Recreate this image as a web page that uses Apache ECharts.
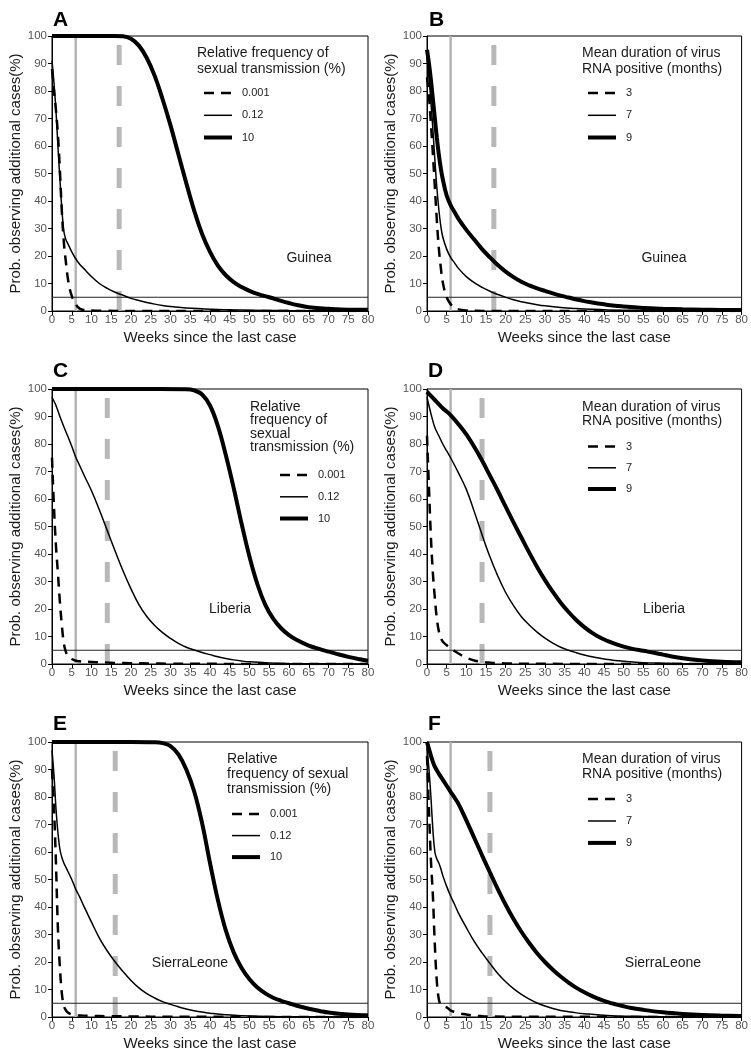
<!DOCTYPE html>
<html>
<head>
<meta charset="utf-8">
<script src="https://cdn.jsdelivr.net/npm/echarts@6/dist/echarts.min.js"></script>
<style>
  html, body { margin: 0; padding: 0; background: #fff; }
  #chart { width: 751px; height: 1061px; }
</style>
</head>
<body>
<div id="chart"></div>
<script>
// [week, prob %], one array per curve
// A: Guinea, relative frequency of sexual transmission
const aLow = [[0,88],[0.5,80],[1,73],[1.5,64],[2,51],[2.5,36],[3,25],[3.5,18],[4,12],[4.5,8],[5,5.5],[5.5,3.8],[6,2.5],[6.5,1.5],[7,0.9],[8,0.4],[10,0.2],[14,0.1],[20,0],[80,0]];
const aMid = [[0,91],[0.5,83],[1,73],[1.5,60],[2,48],[2.5,37],[3,29],[3.5,26],[4,24.5],[5,21.5],[6,19],[7,17],[8,15.5],[10,12.5],[12,10],[14,8.2],[16,6.8],[18,5.7],[20,4.6],[22,3.8],[24,3.1],[26,2.5],[28,2],[30,1.6],[34,1.1],[38,0.8],[42,0.55],[46,0.4],[50,0.3],[60,0.15],[80,0.05]];
const aHigh = [[0,100],[10,100],[16,100],[18,99.9],[20,99],[22,96.5],[24,92],[26,85.5],[28,77],[30,67.5],[32,57],[34,46.5],[36,36.5],[38,28],[40,21.5],[42,16.5],[44,13],[46,10.5],[48,8.7],[50,7.3],[52,6.2],[55,5],[58,3.7],[60,2.9],[62,2.2],[65,1.4],[70,0.8],[75,0.5],[80,0.5]];
// B: Guinea, mean duration of virus RNA positive
const bLow = [[0,85],[0.5,78],[1,68],[1.5,57],[2,45],[2.5,33],[3,23],[3.5,16],[4,10.5],[5,5],[6,2.5],[7,1.2],[8,0.6],[10,0.2],[12,0.1],[14,0],[80,0]];
const bMid = [[0,93],[0.5,85],[1,76],[1.5,66],[2,55],[2.5,45],[3,37],[3.5,31],[4,27],[5,22.5],[6,19.5],[7,17.5],[8,15.5],[10,12.5],[12,10.3],[14,8.6],[16,7.2],[18,6],[20,5],[22,4.1],[24,3.4],[26,2.8],[28,2.3],[30,1.9],[34,1.3],[38,0.9],[42,0.6],[46,0.4],[50,0.3],[60,0.15],[80,0.05]];
const bHigh = [[0,95],[0.5,90],[1,84],[1.5,77],[2,70],[2.5,63],[3,57],[3.5,52],[4,48],[5,42],[6,38.5],[7,36],[8,33.5],[10,29.5],[12,26],[14,22.5],[16,19.5],[18,16.7],[20,14.3],[22,12.3],[24,10.6],[26,9.3],[28,8.2],[30,7.3],[32,6.4],[34,5.6],[36,4.9],[38,4.2],[40,3.6],[42,3.1],[44,2.6],[46,2.2],[48,1.9],[50,1.6],[55,1.1],[60,0.8],[65,0.6],[70,0.5],[75,0.4],[80,0.4]];
// C: Liberia, relative frequency
const cLow = [[0,75],[0.5,57],[1,43],[1.5,33],[2,22.5],[2.5,14],[3,7.5],[3.5,4.5],[4,3],[5,1.8],[6,1.2],[7,1],[8,0.9],[10,0.7],[12,0.6],[14,0.5],[16,0.4],[20,0.3],[25,0.2],[30,0.1],[40,0.05],[80,0]];
const cMid = [[0,97],[1,94],[2,90],[3,86.3],[4,82.8],[5,79.2],[6,75.3],[7,72.2],[8,69],[10,63],[12,56],[14,48.5],[16,41],[18,33.8],[20,27.3],[22,21.6],[24,17.3],[26,14],[28,11.4],[30,9.3],[32,7.5],[34,6.1],[36,5.1],[38,4.2],[40,3.4],[42,2.6],[44,2],[46,1.5],[48,1.1],[50,0.8],[55,0.4],[60,0.2],[65,0.1],[80,0]];
const cHigh = [[0,100],[20,100],[34,99.9],[36,99.5],[38,98],[40,94],[42,86.5],[44,76],[46,64],[48,51],[50,39],[52,29],[54,21.5],[56,16.5],[58,13],[60,10.5],[62,8.7],[65,6.7],[68,5.3],[70,4.5],[72,3.7],[75,2.6],[78,1.7],[80,1.2]];
// D: Liberia, mean duration
const dLow = [[0,83],[0.5,64],[1,46],[1.5,33],[2,24],[2.5,16.5],[3,12],[3.5,9.5],[4,8.2],[5,6.8],[6,5.7],[7,4.7],[8,3.8],[9,3],[10,2.3],[12,1.3],[14,0.8],[16,0.5],[18,0.3],[20,0.2],[25,0.1],[30,0.05],[80,0]];
const dMid = [[0,97],[1,91],[2,86],[3,83],[4,80],[5,77.5],[6,75],[8,69.5],[10,63.5],[12,55.5],[14,47],[16,39],[18,32],[20,26],[22,21.2],[24,17.2],[26,14.2],[28,11.6],[30,9.4],[32,7.6],[34,6.1],[36,5],[38,4.1],[40,3.3],[42,2.6],[44,2.1],[46,1.6],[48,1.3],[50,1],[55,0.5],[60,0.3],[65,0.15],[80,0.05]];
const dHigh = [[0,99],[1,97.5],[2,96],[3,94.5],[4,93],[5,91.8],[6,90.5],[8,87.2],[10,83.5],[12,79],[14,74],[16,68.5],[18,63],[20,57.2],[22,51.5],[24,46],[26,40.5],[28,35.3],[30,30.5],[32,26.2],[34,22.3],[36,18.9],[38,15.9],[40,13.4],[42,11.3],[44,9.6],[46,8.3],[48,7.2],[50,6.3],[52,5.6],[55,4.8],[58,4],[60,3.4],[62,2.8],[65,2.1],[70,1.3],[75,0.8],[80,0.6]];
// E: Sierra Leone, relative frequency
const eLow = [[0,90],[0.5,76],[1,56],[1.5,32],[2,18],[2.5,8.5],[3,4],[3.5,2.5],[4,1.6],[5,0.9],[6,0.6],[8,0.5],[10,0.4],[14,0.3],[20,0.2],[30,0.1],[80,0]];
const eMid = [[0,97],[0.5,88],[1,76],[1.5,67],[2,61],[2.5,58],[3,56],[3.5,54.5],[4,53],[5,50],[6,46.5],[7,43.7],[8,40.5],[10,34.5],[12,28.7],[14,24],[16,20],[18,16.5],[20,13.3],[22,10.6],[24,8.5],[26,6.9],[28,5.6],[30,4.6],[32,3.7],[34,2.9],[36,2.3],[38,1.8],[40,1.4],[44,0.8],[48,0.5],[52,0.3],[60,0.1],[80,0]];
const eHigh = [[0,100],[20,100],[26,99.9],[28,99.6],[30,98.5],[32,95.5],[34,90],[36,82],[38,70.5],[40,56],[42,42.5],[44,31.5],[46,23.5],[48,17.8],[50,13.7],[52,10.7],[54,8.6],[56,7],[58,5.9],[60,5],[62,4.1],[65,3],[68,2.1],[70,1.6],[75,0.9],[80,0.6]];
// F: Sierra Leone, mean duration
const fLow = [[0,95],[0.5,75],[1,57],[1.5,44],[2,26],[2.5,13],[3,6.5],[3.5,4.5],[4,4.1],[5,3.5],[6,2.4],[7,1.8],[8,1.4],[10,0.9],[12,0.5],[14,0.3],[16,0.2],[20,0.1],[80,0]];
const fMid = [[0,98],[0.5,90],[1,80],[1.5,68],[2,60],[2.5,57.5],[3,56],[3.5,54],[4,51.5],[5,47.5],[6,44],[7,41],[8,37.8],[10,32.5],[12,27.5],[14,23.3],[16,19.5],[18,15.8],[20,12.8],[22,10.3],[24,8.2],[26,6.5],[28,5.1],[30,4],[32,3.1],[34,2.4],[36,1.9],[38,1.5],[40,1.2],[44,0.7],[48,0.4],[52,0.25],[60,0.1],[80,0]];
const fHigh = [[0,100],[0.5,97.5],[1,95],[1.5,92.8],[2,91],[3,88.5],[4,86.3],[5,84.1],[6,81.9],[7,79.8],[8,77.5],[10,71.5],[12,65.2],[14,58.8],[16,52.6],[18,46.5],[20,40.8],[22,35.6],[24,31],[26,26.9],[28,23.2],[30,20],[32,17.2],[34,14.7],[36,12.5],[38,10.6],[40,9],[42,7.6],[44,6.4],[46,5.4],[48,4.6],[50,3.9],[52,3.3],[55,2.6],[60,1.7],[65,1.1],[70,0.7],[75,0.5],[80,0.4]];

const freqNames = ['0.001', '0.12', '10'];
const durNames = ['3', '7', '9'];
const letters = ['A', 'B', 'C', 'D', 'E', 'F'];
const countries = ['Guinea', 'Guinea', 'Liberia', 'Liberia', 'SierraLeone', 'SierraLeone'];
const freqTitle = 'Relative frequency of\nsexual transmission (%)';
const durTitle = 'Mean duration of virus\nRNA positive (months)';
const curves = [
  [aLow, aMid, aHigh], [bLow, bMid, bHigh],
  [cLow, cMid, cHigh], [dLow, dMid, dHigh],
  [eLow, eMid, eHigh], [fLow, fMid, fHigh]
];
const earlyWeek = 6;                        // grey solid line
const lastWeek = [17, 17, 14, 14, 16, 16];  // grey dashed line
const cutoff = 5;                           // 5% threshold

const FONT = '"Liberation Sans", Arial, Helvetica, sans-serif';
const lefts = [52, 427];
const tops = [36, 389, 742];
const GW = 316, GH = 275;

// layout of the texts inside each panel
const legendBox = [
  { left: 202, top: 87.5, gap: 11 },
  { left: 586, top: 87.5, gap: 11 },
  { left: 278, top: 469.5, gap: 10.5 },
  { left: 586, top: 441, gap: 10 },
  { left: 230, top: 808.5, gap: 10.3 },
  { left: 586, top: 793.5, gap: 10.7 }
];
const headBox = [
  { x: 197, y: 53, lh: 16, text: freqTitle },
  { x: 582, y: 53, lh: 15.7, text: durTitle },
  { x: 250, y: 406.7, lh: 13.5, text: 'Relative\nfrequency of\nsexual\ntransmission (%)' },
  { x: 582, y: 406.7, lh: 14.3, text: durTitle },
  { x: 227, y: 759, lh: 15, text: 'Relative\nfrequency of sexual\ntransmission (%)' },
  { x: 582, y: 759, lh: 15, text: durTitle }
];
const countryPos = [[309, 258], [664, 258], [230, 609], [664, 609], [190, 963], [663, 963]];
const letterPos = [[53, 20], [429, 20], [53, 371], [428, 371], [53, 724], [428, 724]];

const grid = [], xAxis = [], yAxis = [], series = [], legend = [], graphic = [];
const curveStyles = [
  { width: 2.5, type: [10, 7] },
  { width: 1.5, type: 'solid' },
  { width: 4, type: 'solid' }
];

for (let i = 0; i < 6; i++) {
  const names = i % 2 === 0 ? freqNames : durNames;
  grid.push({
    left: lefts[i % 2], top: tops[Math.floor(i / 2)], width: GW, height: GH,
    show: true, borderColor: '#000', borderWidth: 1, backgroundColor: 'transparent'
  });
  xAxis.push({
    type: 'value', gridIndex: i, min: 0, max: 80, interval: 5,
    name: 'Weeks since the last case', nameLocation: 'middle', nameGap: 19,
    nameTextStyle: { fontFamily: FONT, fontSize: 15, color: '#1a1a1a' },
    axisLine: { onZero: false, lineStyle: { color: '#000', width: 1 } },
    axisTick: { length: 4, lineStyle: { color: '#000' } },
    axisLabel: { margin: 3, fontFamily: FONT, fontSize: 11.5, color: '#555' },
    splitLine: { show: false }
  });
  yAxis.push({
    type: 'value', gridIndex: i, min: 0, max: 100, interval: 10,
    name: 'Prob. observing additional cases(%)', nameLocation: 'middle', nameGap: 29,
    nameTextStyle: { fontFamily: FONT, fontSize: 15, color: '#1a1a1a' },
    axisLine: { lineStyle: { color: '#000', width: 1 } },
    axisTick: { length: 4, lineStyle: { color: '#000' } },
    axisLabel: { margin: 5, fontFamily: FONT, fontSize: 11.5, color: '#555' },
    splitLine: { show: false }
  });

  // reference lines
  series.push({
    type: 'line', xAxisIndex: i, yAxisIndex: i, symbol: 'none', silent: true,
    data: [[earlyWeek, 0], [earlyWeek, 100]],
    lineStyle: { color: '#b4b4b4', width: 2.5 }, z: 1
  });
  series.push({
    type: 'line', xAxisIndex: i, yAxisIndex: i, symbol: 'none', silent: true,
    data: [[lastWeek[i], 0], [lastWeek[i], 100]],
    lineStyle: { color: '#b8b8b8', width: 5, type: [20, 21] }, z: 1
  });
  series.push({
    type: 'line', xAxisIndex: i, yAxisIndex: i, symbol: 'none', silent: true,
    data: [[0, cutoff], [80, cutoff]],
    lineStyle: { color: '#222', width: 1 }, z: 1
  });

  // model curves
  curves[i].forEach((d, k) => {
    series.push({
      name: names[k], type: 'line', xAxisIndex: i, yAxisIndex: i,
      symbol: 'none', showSymbol: false, smooth: 0.4,
      data: d, color: '#000',
      lineStyle: { color: '#000', width: curveStyles[k].width, type: curveStyles[k].type },
      z: 3
    });
  });

  legend.push({
    data: names.map((n, k) => ({
      name: n,
      itemStyle: { opacity: 0 },
      lineStyle: { color: '#000', width: curveStyles[k].width, type: curveStyles[k].type }
    })),
    orient: 'vertical', left: legendBox[i].left, top: legendBox[i].top,
    itemWidth: 28, itemHeight: 14, itemGap: legendBox[i].gap, padding: 0,
    selectedMode: false,
    itemStyle: { opacity: 0 },
    lineStyle: { width: 'inherit', type: 'inherit', color: '#000' },
    textStyle: { fontFamily: FONT, fontSize: 11, color: '#222', padding: [0, 0, 0, 5] }
  });

  graphic.push({
    type: 'text', x: headBox[i].x, y: headBox[i].y - headBox[i].lh / 2,
    style: {
      text: headBox[i].text, font: '14px ' + FONT, fill: '#1a1a1a',
      lineHeight: headBox[i].lh, verticalAlign: 'top', align: 'left'
    }
  });
  graphic.push({
    type: 'text', x: countryPos[i][0], y: countryPos[i][1],
    style: { text: countries[i], font: '14px ' + FONT, fill: '#1a1a1a', align: 'center', verticalAlign: 'middle' }
  });
  graphic.push({
    type: 'text', x: letterPos[i][0], y: letterPos[i][1],
    style: { text: letters[i], font: 'bold 21px ' + FONT, fill: '#000', align: 'left', verticalAlign: 'middle' }
  });
}

const chart = echarts.init(document.getElementById('chart'), null, { renderer: 'canvas' });
chart.setOption({
  backgroundColor: '#fff',
  animation: false,
  grid, xAxis, yAxis, series, legend, graphic
});
</script>
</body>
</html>
